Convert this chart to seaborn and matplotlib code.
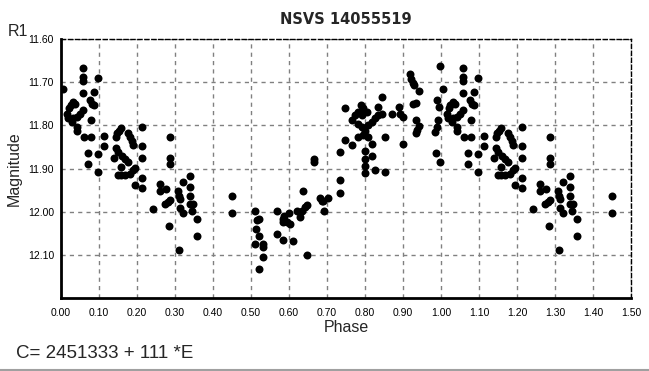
import numpy as np
import pandas as pd
import matplotlib
matplotlib.use("Agg")
import matplotlib.pyplot as plt
from matplotlib.lines import Line2D
from matplotlib.ticker import MultipleLocator, FixedLocator
import seaborn as sns

# ---------------- data (phase in [0,1), magnitude) ----------------
phase = [
    0.004, 0.015, 0.019, 0.022, 0.025, 0.028, 0.032, 0.032, 0.036, 0.041,
    0.041, 0.043, 0.050, 0.059, 0.059, 0.059, 0.059, 0.059, 0.061, 0.070,
    0.070, 0.076, 0.078, 0.079, 0.081, 0.087, 0.087, 0.097, 0.097, 0.097,
    0.113, 0.114,
    0.140, 0.144, 0.148, 0.152, 0.158, 0.145, 0.151, 0.160, 0.168, 0.175,
    0.158, 0.149, 0.158, 0.168, 0.181, 0.190, 0.195, 0.177, 0.182, 0.186,
    0.189, 0.195, 0.212, 0.212, 0.212, 0.212, 0.212,
    0.241, 0.261, 0.261, 0.276, 0.274, 0.282, 0.287, 0.284, 0.287, 0.287,
    0.287, 0.309, 0.311, 0.313, 0.320, 0.313, 0.320, 0.311, 0.339, 0.339,
    0.339, 0.339, 0.348, 0.346, 0.357, 0.357, 0.449, 0.449,
    0.511, 0.515, 0.522, 0.513, 0.521, 0.511, 0.531, 0.531, 0.531, 0.521,
    0.568, 0.583, 0.589, 0.596, 0.603, 0.583, 0.586, 0.568, 0.583, 0.610,
    0.601, 0.620, 0.629, 0.633, 0.642, 0.647, 0.636, 0.647, 0.666, 0.666,
    0.682, 0.690, 0.702, 0.692, 0.686,
    0.734, 0.734, 0.734, 0.747, 0.747, 0.765, 0.765, 0.774, 0.782, 0.789,
    0.796, 0.804, 0.791, 0.782, 0.791, 0.800, 0.809, 0.818, 0.826, 0.835,
    0.844, 0.782, 0.809, 0.796, 0.844, 0.833, 0.818, 0.818, 0.800, 0.800,
    0.800, 0.800, 0.826, 0.853, 0.853, 0.870, 0.889, 0.892, 0.901, 0.899,
    0.918, 0.920, 0.925, 0.930, 0.943, 0.927, 0.934, 0.934, 0.943, 0.937,
    0.934, 0.987, 0.997, 0.989, 0.996, 0.997, 0.993, 0.989, 0.984,
]
magnitude = [
    11.715, 11.773, 11.784, 11.761, 11.753, 11.792, 11.746, 11.784, 11.750, 11.781,
    11.804, 11.812, 11.773, 11.765, 11.667, 11.688, 11.697, 11.724, 11.827, 11.864,
    11.890, 11.742, 11.788, 11.827, 11.750, 11.722, 11.753, 11.691, 11.866, 11.909,
    11.825, 11.848,
    11.876, 11.827, 11.818, 11.812, 11.806, 11.853, 11.862, 11.870, 11.877, 11.885,
    11.897, 11.916, 11.914, 11.914, 11.912, 11.904, 11.898, 11.817, 11.826, 11.836,
    11.845, 11.938, 11.804, 11.848, 11.875, 11.922, 11.945,
    11.994, 11.936, 11.953, 11.947, 11.982, 11.978, 11.974, 12.034, 11.827, 11.876,
    11.890, 11.953, 11.963, 11.971, 11.932, 11.991, 12.003, 12.088, 11.918, 11.942,
    11.963, 11.982, 11.982, 11.999, 12.016, 12.056, 11.964, 12.002,
    11.999, 12.019, 12.016, 12.039, 12.057, 12.075, 12.074, 12.083, 12.106, 12.133,
    11.999, 12.017, 12.021, 12.025, 12.029, 12.024, 12.010, 12.052, 12.066, 12.068,
    12.004, 11.999, 12.013, 11.998, 11.990, 11.984, 11.953, 12.100, 11.878, 11.884,
    11.969, 11.976, 11.969, 11.999, 11.975,
    11.862, 11.926, 11.957, 11.760, 11.833, 11.845, 11.788, 11.777, 11.769, 11.753,
    11.761, 11.769, 11.777, 11.796, 11.804, 11.812, 11.800, 11.792, 11.784, 11.777,
    11.773, 11.826, 11.826, 11.822, 11.734, 11.757, 11.843, 11.870, 11.860, 11.877,
    11.895, 11.910, 11.903, 11.907, 11.827, 11.773, 11.757, 11.773, 11.781, 11.843,
    11.682, 11.693, 11.703, 11.707, 11.721, 11.750, 11.748, 11.788, 11.802, 11.810,
    11.818, 11.864, 11.885, 11.742, 11.757, 11.662, 11.788, 11.804, 11.815,
]

x_ticks = [0.0, 0.1, 0.2, 0.3, 0.4, 0.5, 0.6, 0.7, 0.8, 0.9, 1.0, 1.1, 1.2, 1.3, 1.4, 1.5]
x_tick_labels = ["0.00", "0.10", "0.20", "0.30", "0.40", "0.50", "0.60", "0.70",
                 "0.80", "0.90", "1.00", "1.10", "1.20", "1.30", "1.40", "1.50"]
y_ticks = [11.6, 11.7, 11.8, 11.9, 12.0, 12.1]
y_tick_labels = ["11.60", "11.70", "11.80", "11.90", "12.00", "12.10"]

title = "NSVS 14055519"
ephemeris = "C= 2451333 + 111 *E"

# ---------------- build frame (phase-folded, repeated past 1.0) ----------------
df = pd.DataFrame({"Phase": phase, "Magnitude": magnitude})
rep = df[df["Phase"] < 0.5].copy()
rep["Phase"] = rep["Phase"] + 1.0
full = pd.concat([df, rep], ignore_index=True)

sns.set_style("white")
plt.rcParams["font.family"] = ["Liberation Sans", "DejaVu Sans"]

W, H = 649, 371
fig = plt.figure(figsize=(W / 100, H / 100), dpi=100)
fig.patch.set_facecolor("white")
ax = fig.add_axes([61 / W, 1 - 298 / H, 570 / W, 259 / H])

sns.scatterplot(data=full, x="Phase", y="Magnitude", color="black", s=33,
                linewidth=0, marker="o", ax=ax, zorder=3, legend=False)

ax.set_xlim(0, 1.5)
ax.set_ylim(12.2, 11.6)

ax.xaxis.set_major_locator(FixedLocator(x_ticks))
ax.set_xticklabels(x_tick_labels)
ax.xaxis.set_minor_locator(MultipleLocator(0.02))
ax.yaxis.set_major_locator(FixedLocator(y_ticks))
ax.set_yticklabels(y_tick_labels)
ax.yaxis.set_minor_locator(MultipleLocator(0.025))

ax.grid(True, which="major", color="#808080", linestyle=(0, (3, 3)), linewidth=1)

for s in ["top", "right"]:
    ax.spines[s].set_linestyle((0, (3, 2)))
    ax.spines[s].set_linewidth(1)
    ax.spines[s].set_color("black")
for s in ["left", "bottom"]:
    ax.spines[s].set_linewidth(2)
    ax.spines[s].set_color("black")

ax.tick_params(axis="x", which="major", direction="out", length=4, width=1,
               labelsize=7.5, pad=3, colors="black")
ax.tick_params(axis="x", which="minor", direction="out", length=2, width=1)
ax.tick_params(axis="y", which="major", direction="out", length=3, width=1,
               labelsize=7.5, pad=2, colors="black")
ax.tick_params(axis="y", which="minor", direction="in", length=2.5, width=1)

ax.set_xlabel("Phase", fontsize=11.5)
ax.xaxis.set_label_coords(0.5, -0.085)
ax.set_ylabel("Magnitude", fontsize=11.5)
ax.yaxis.set_label_coords(-0.068, 0.5)

fig.text(346 / W, 1 - 19 / H, title, ha="center", va="center",
         fontsize=10.5, fontweight="bold", family="DejaVu Sans")
fig.text(8 / W, 1 - 32 / H, "R1", ha="left", va="center", fontsize=11.5)
fig.text(16 / W, 1 - 353 / H, ephemeris, ha="left", va="center", fontsize=13.5)

fig.add_artist(Line2D([0, 1], [0.8 / H, 0.8 / H], color="#a0a0a0", lw=1.5,
                      transform=fig.transFigure))

fig.savefig("out.png", dpi=100)
